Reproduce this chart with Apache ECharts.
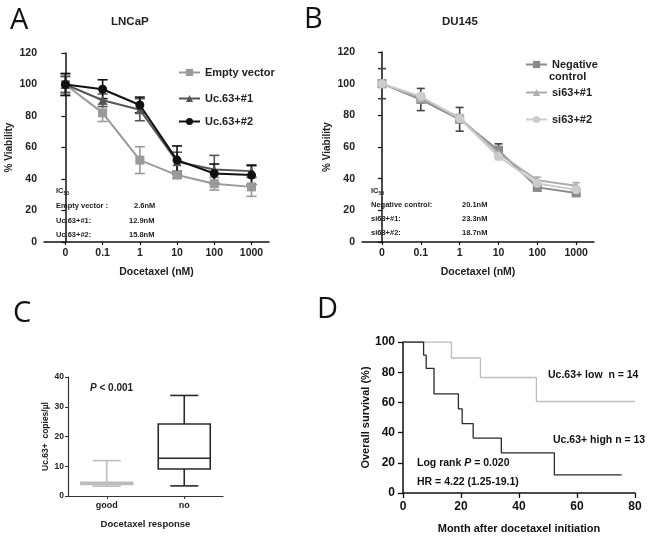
<!DOCTYPE html>
<html><head><meta charset="utf-8">
<script src="https://cdn.jsdelivr.net/npm/echarts@6/dist/echarts.min.js"></script>
<style>html,body{margin:0;padding:0;background:#fff}#c{width:652px;height:545px}</style>
</head><body><div id="c"></div>
<script>
// ---- data ----
const doses = ['0', '0.1', '1', '10', '100', '1000'];
const lncapEmpty = [100, 82, 52, 42.5, 37, 35];
const lncapEmptyErr = [6, 5.5, 8.5, 2, 4, 6];
const lncapUc1 = [100, 90, 84, 51, 46, 45];
const lncapUc1Err = [5, 4, 7, 6, 9, 4];
const lncapUc2 = [100, 97, 87, 52, 43.5, 42.5];
const lncapUc2Err = [7, 6, 5, 9, 6, 6];
const du145Neg = [100, 90, 77.5, 58, 34.5, 31];
const du145NegErr = [9.5, 7, 7.5, 4, 2, 2];
const du145Si1 = [100, 91, 78.5, 56, 39, 35.5];
const du145Si1Err = [2, 2, 2, 2, 2, 2];
const du145Si2 = [100, 92, 78, 54, 37, 33];
const du145Si2Err = [2, 2, 2, 2, 2, 2];
const responseCats = ['good', 'no'];
const boxGood = [3.3, 3.9, 4.2, 4.6, 11.9];
const boxNo = [3.4, 9.1, 12.7, 24.2, 33.8];
const kmHighT = [0, 7.1, 8.0, 10.7, 19.1, 20.4, 24.2, 33.9, 52.2, 75.4];
const kmHighS = [100, 91.3, 82.5, 65.6, 55.7, 46, 36.4, 26.6, 12, 12];
const kmLowT = [0, 16.7, 26.7, 46, 80];
const kmLowS = [100, 89.4, 76.5, 60.6, 60.6];

// ---- helpers ----
const F = 'Liberation Sans, Arial, sans-serif';
const pts = arr => arr.map((v, i) => [i, v]);
const errPts = (arr, err) => arr.map((v, i) => [i, v, err[i]]);
function errRender(color, capW, lw) {
  return function (params, api) {
    const x = api.value(0), y = api.value(1), e = api.value(2);
    const hi = api.coord([x, y + e]), lo = api.coord([x, y - e]);
    const hw = capW / 2, st = { stroke: color, lineWidth: lw };
    return { type: 'group', children: [
      { type: 'line', shape: { x1: hi[0], y1: hi[1], x2: lo[0], y2: lo[1] }, style: st },
      { type: 'line', shape: { x1: hi[0] - hw, y1: hi[1], x2: hi[0] + hw, y2: hi[1] }, style: st },
      { type: 'line', shape: { x1: lo[0] - hw, y1: lo[1], x2: lo[0] + hw, y2: lo[1] }, style: st }
    ] };
  };
}
function boxRender(color) {
  return function (params, api) {
    const x = api.value(0);
    const c = k => api.coord([x, api.value(k)]);
    const mn = c(1), q1 = c(2), md = c(3), q3 = c(4), mx = c(5);
    const cx = mn[0], bw = 52, cw = 28, st = { stroke: color, lineWidth: 1.6, fill: null };
    return { type: 'group', children: [
      { type: 'line', shape: { x1: cx, y1: mx[1], x2: cx, y2: q3[1] }, style: st },
      { type: 'line', shape: { x1: cx, y1: q1[1], x2: cx, y2: mn[1] }, style: st },
      { type: 'line', shape: { x1: cx - cw / 2, y1: mx[1], x2: cx + cw / 2, y2: mx[1] }, style: st },
      { type: 'line', shape: { x1: cx - cw / 2, y1: mn[1], x2: cx + cw / 2, y2: mn[1] }, style: st },
      { type: 'rect', shape: { x: cx - bw / 2, y: q3[1], width: bw, height: q1[1] - q3[1] }, style: { stroke: color, lineWidth: 1.6, fill: 'none' } },
      { type: 'line', shape: { x1: cx - bw / 2, y1: md[1], x2: cx + bw / 2, y2: md[1] }, style: st }
    ] };
  };
}
const axisLineS = { show: true, lineStyle: { color: '#111', width: 1.5 } };
function doseX(gi, min, max) {
  return { type: 'value', gridIndex: gi, min: min, max: max,
    axisLine: axisLineS, splitLine: { show: false },
    axisTick: { show: true, length: 3, customValues: [0, 1, 2, 3, 4, 5], lineStyle: { color: '#111', width: 1.2 } },
    axisLabel: { customValues: [0, 1, 2, 3, 4, 5], formatter: v => doses[Math.round(v)], fontFamily: F, fontWeight: 'bold', fontSize: 10.5, color: '#222', margin: 6 },
    name: 'Docetaxel (nM)', nameLocation: 'middle', nameGap: 25,
    nameTextStyle: { fontFamily: F, fontWeight: 'bold', fontSize: 10.5, color: '#222' } };
}
function viaY(gi) {
  return { type: 'value', gridIndex: gi, min: 0, max: 120, interval: 20,
    axisLine: axisLineS, splitLine: { show: false },
    axisTick: { show: true, length: 4, lineStyle: { color: '#111', width: 1.2 } },
    axisLabel: { fontFamily: F, fontWeight: 'bold', fontSize: 10.5, color: '#222', margin: 7 },
    name: '% Viability', nameLocation: 'middle', nameGap: 30, nameRotate: 90,
    nameTextStyle: { fontFamily: F, fontWeight: 'bold', fontSize: 10, color: '#222' } };
}
function lineS(name, gi, data, color, symbol, z) {
  return { type: 'line', name: name, xAxisIndex: gi, yAxisIndex: gi, data: pts(data),
    symbol: symbol, symbolSize: 9, z: z,
    lineStyle: { color: color, width: 2 }, itemStyle: { color: color } };
}
function errS(gi, data, err, color, cap, z) {
  return { type: 'custom', xAxisIndex: gi, yAxisIndex: gi, data: errPts(data, err),
    renderItem: errRender(color, cap, 1.6), z: z, silent: true };
}
function leg(name, left, top) {
  return { data: [name], left: left, top: top, itemWidth: 21, itemHeight: 9, itemGap: 4, padding: 0,
    textStyle: { fontFamily: F, fontWeight: 'bold', fontSize: 11, color: '#222' }, selectedMode: false };
}
const txt = (text, x, y, size, opts) => Object.assign({ type: 'text', left: x, top: y,
  style: Object.assign({ text: text, fontFamily: F, fontWeight: 'bold', fontSize: size, fill: '#222' }, (opts && opts.style) || {}) },
  opts && opts.pos ? opts.pos : {});
const letter = (t, x, y) => ({ type: 'text', left: x, top: y, style: { text: t, fontFamily: 'Open Sans, sans-serif', fontSize: 29, fill: '#111' } });

const chart = echarts.init(document.getElementById('c'));
chart.setOption({
  animation: false,
  backgroundColor: '#fff',
  grid: [
    { left: 44, top: 53, width: 225, height: 189 },
    { left: 362, top: 52, width: 232, height: 190 },
    { left: 68, top: 377, width: 155, height: 119 },
    { left: 403, top: 342, width: 232, height: 151 }
  ],
  xAxis: [
    doseX(0, -0.575, 5.47),
    doseX(1, -0.515, 5.46),
    { type: 'category', gridIndex: 2, data: responseCats,
      axisLine: { show: true, lineStyle: { color: '#333', width: 1.2 } },
      axisTick: { show: true, alignWithLabel: true, length: 3, lineStyle: { color: '#333' } },
      axisLabel: { fontFamily: F, fontWeight: 'bold', fontSize: 9, color: '#222', margin: 5 },
      name: 'Docetaxel response', nameLocation: 'middle', nameGap: 23,
      nameTextStyle: { fontFamily: F, fontWeight: 'bold', fontSize: 9.5, color: '#222' } },
    { type: 'value', gridIndex: 3, min: 0, max: 80, interval: 20, splitLine: { show: false },
      axisLine: { show: true, lineStyle: { color: '#111', width: 1.5 } },
      axisTick: { show: true, length: 5, lineStyle: { color: '#111', width: 1.3 } },
      axisLabel: { fontFamily: F, fontWeight: 'bold', fontSize: 12, color: '#111', margin: 8 },
      name: 'Month after docetaxel initiation', nameLocation: 'middle', nameGap: 30,
      nameTextStyle: { fontFamily: F, fontWeight: 'bold', fontSize: 11, color: '#111' } }
  ],
  yAxis: [
    viaY(0), viaY(1),
    { type: 'value', gridIndex: 2, min: 0, max: 40, interval: 10, splitLine: { show: false },
      axisLine: { show: true, lineStyle: { color: '#333', width: 1.2 } },
      axisTick: { show: true, length: 3, lineStyle: { color: '#333' } },
      axisLabel: { fontFamily: F, fontWeight: 'bold', fontSize: 8.5, color: '#222', margin: 4 },
      name: 'Uc.63+  copies/\u00b5l', nameLocation: 'middle', nameGap: 17, nameRotate: 90,
      nameTextStyle: { fontFamily: F, fontWeight: 'bold', fontSize: 8.5, color: '#222' } },
    { type: 'value', gridIndex: 3, min: 0, max: 100, interval: 20, splitLine: { show: false },
      axisLine: { show: true, lineStyle: { color: '#111', width: 1.5 } },
      axisTick: { show: true, length: 5, lineStyle: { color: '#111', width: 1.3 } },
      axisLabel: { fontFamily: F, fontWeight: 'bold', fontSize: 12, color: '#111', margin: 8 },
      name: 'Overall survival (%)', nameLocation: 'middle', nameGap: 31, nameRotate: 90,
      nameTextStyle: { fontFamily: F, fontWeight: 'bold', fontSize: 11, color: '#111' } }
  ],
  legend: [
    leg('Empty vector', 178, 67), leg('Uc.63+#1', 178, 93), leg('Uc.63+#2', 178, 116),
    Object.assign(leg('Negative control', 525, 59), { formatter: () => 'Negative' }),
    leg('si63+#1', 525, 87), leg('si63+#2', 525, 114)
  ],
  series: [
    errS(0, lncapEmpty, lncapEmptyErr, '#9a9a9a', 10, 2),
    errS(0, lncapUc1, lncapUc1Err, '#555', 10, 3),
    errS(0, lncapUc2, lncapUc2Err, '#111', 10, 4),
    lineS('Empty vector', 0, lncapEmpty, '#9a9a9a', 'rect', 5),
    lineS('Uc.63+#1', 0, lncapUc1, '#555', 'triangle', 6),
    lineS('Uc.63+#2', 0, lncapUc2, '#111', 'circle', 7),
    errS(1, du145Si2, du145Si2Err, '#cfcfcf', 8, 2),
    errS(1, du145Si1, du145Si1Err, '#b0b0b0', 8, 2),
    errS(1, du145Neg, du145NegErr, '#444', 8, 3),
    lineS('Negative control', 1, du145Neg, '#8a8a8a', 'rect', 5),
    lineS('si63+#1', 1, du145Si1, '#adadad', 'triangle', 6),
    lineS('si63+#2', 1, du145Si2, '#cccccc', 'circle', 7),
    { type: 'custom', xAxisIndex: 2, yAxisIndex: 2, data: [[0].concat(boxGood)],
      encode: { x: 0, y: [1, 2, 3, 4, 5] }, renderItem: boxRender('#bdbdbd') },
    { type: 'custom', xAxisIndex: 2, yAxisIndex: 2, data: [[1].concat(boxNo)],
      encode: { x: 0, y: [1, 2, 3, 4, 5] }, renderItem: boxRender('#2a2a2a') },
    { type: 'line', name: 'Uc.63+ low', xAxisIndex: 3, yAxisIndex: 3, step: 'end', symbol: 'none',
      data: kmLowT.map((t, i) => [t, kmLowS[i]]), lineStyle: { color: '#bdbdbd', width: 1.3 } },
    { type: 'line', name: 'Uc.63+ high', xAxisIndex: 3, yAxisIndex: 3, step: 'end', symbol: 'none',
      data: kmHighT.map((t, i) => [t, kmHighS[i]]), lineStyle: { color: '#2a2a2a', width: 1.3 } }
  ],
  graphic: [
    letter('A', 10, 6), letter('B', 304, 5), letter('C', 13, 299), letter('D', 317, 295),
    txt('LNCaP', 111, 16, 11.5),
    txt('DU145', 442, 16, 11.5),
    { type: 'text', left: 56, top: 187, style: { text: 'IC{s|50}', fontFamily: F, fontWeight: 'bold', fontSize: 7.5, fill: '#222', rich: { s: { fontSize: 5, fontFamily: F, fontWeight: 'bold', padding: [5, 0, 0, 0] } } } },
    txt('Empty vector :', 56, 202, 7.5), txt('2.6nM', 134, 202, 7.5),
    txt('Uc.63+#1:', 56, 217, 7.5), txt('12.9nM', 129, 217, 7.5),
    txt('Uc.63+#2:', 56, 231, 7.5), txt('15.8nM', 129, 231, 7.5),
    { type: 'text', left: 371, top: 187, style: { text: 'IC{s|50}', fontFamily: F, fontWeight: 'bold', fontSize: 7.5, fill: '#222', rich: { s: { fontSize: 5, fontFamily: F, fontWeight: 'bold', padding: [5, 0, 0, 0] } } } },
    txt('Negative control:', 371, 201, 7.5), txt('20.1nM', 462, 201, 7.5),
    txt('si63+#1:', 371, 215, 7.5), txt('23.3nM', 462, 215, 7.5),
    txt('si63+#2:', 371, 229, 7.5), txt('18.7nM', 462, 229, 7.5),
    txt('control', 549, 71, 11),
    { type: 'text', left: 90, top: 383, style: { text: '{i|P} < 0.001', fontFamily: F, fontWeight: 'bold', fontSize: 10, fill: '#222', rich: { i: { fontStyle: 'italic', fontFamily: F, fontWeight: 'bold', fontSize: 10 } } } },
    txt('Uc.63+ low  n = 14', 548, 370, 10.5, { style: { fill: '#111' } }),
    txt('Uc.63+ high n = 13', 553, 435, 10.5, { style: { fill: '#111' } }),
    { type: 'text', left: 417, top: 458, style: { text: 'Log rank {i|P} = 0.020', fontFamily: F, fontWeight: 'bold', fontSize: 10.5, fill: '#111', rich: { i: { fontStyle: 'italic', fontFamily: F, fontWeight: 'bold', fontSize: 10.5 } } } },
    txt('HR = 4.22 (1.25-19.1)', 417, 477, 10.5, { style: { fill: '#111' } })
  ]
});
</script>
</body></html>
